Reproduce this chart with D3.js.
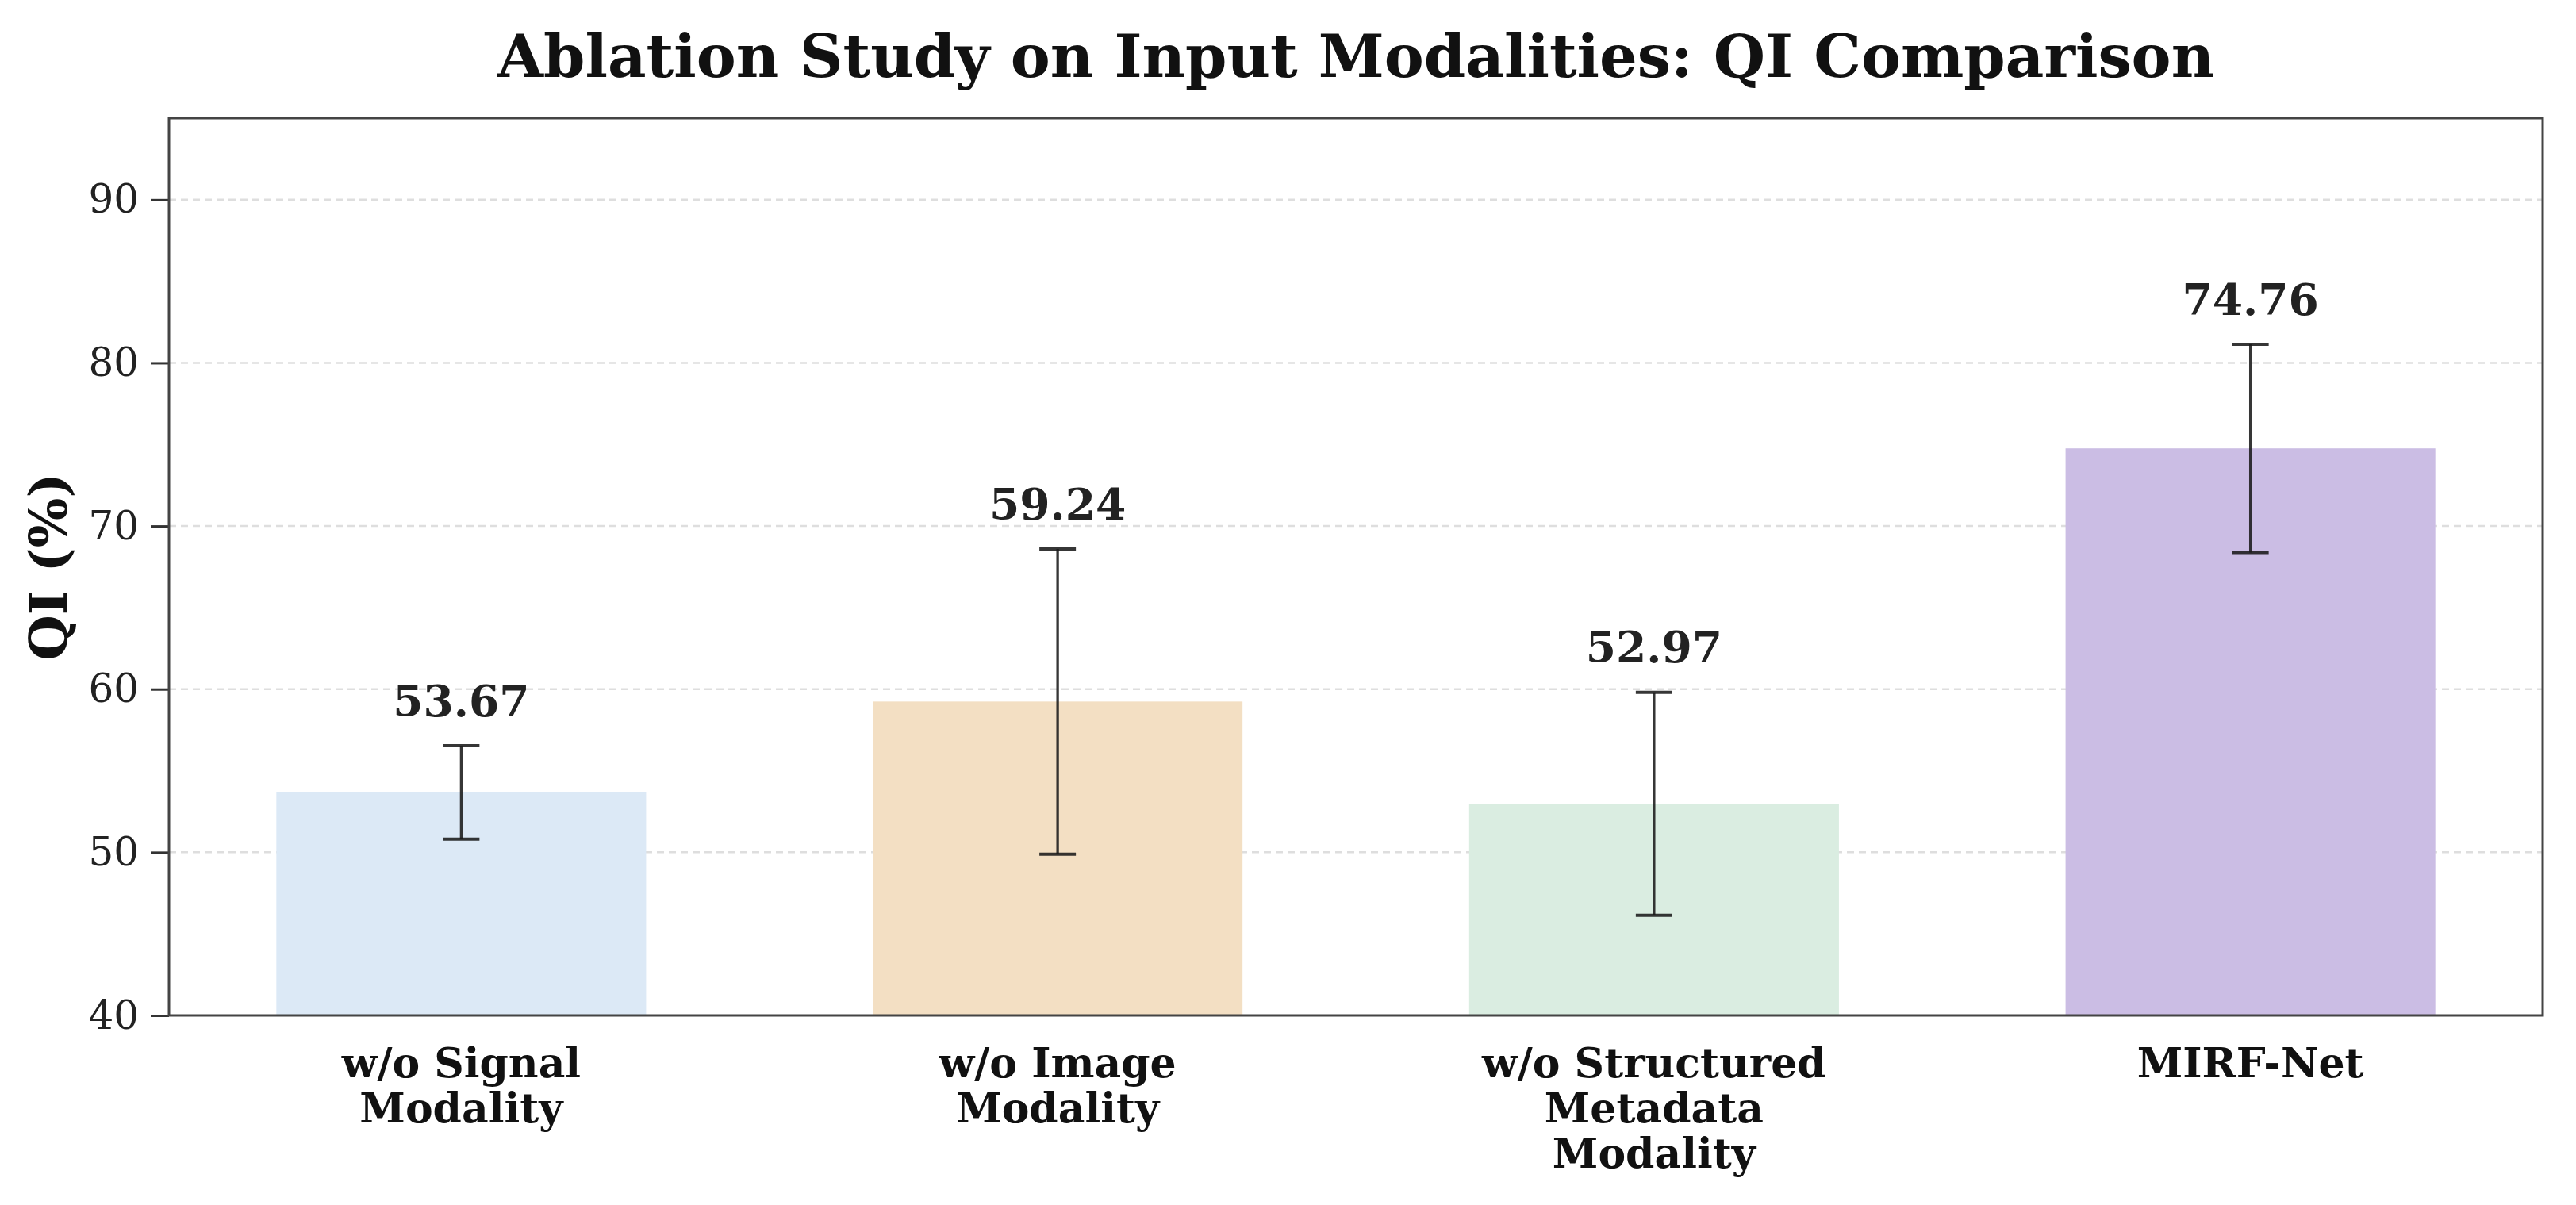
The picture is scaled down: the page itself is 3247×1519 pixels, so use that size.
<!DOCTYPE html>
<html>
<head>
<meta charset="utf-8">
<script src="https://cdn.jsdelivr.net/npm/d3@7"></script>
<style>
  html, body { margin: 0; padding: 0; background: #fff; }
  svg { display: block; }
</style>
</head>
<body>
<div id="container"></div>
<script>
// chart data
const categories = ["w/o Signal\nModality", "w/o Image\nModality", "w/o Structured\nMetadata\nModality", "MIRF-Net"];
const means = [53.67, 59.24, 52.97, 74.76];
const errors = [2.86, 9.35, 6.83, 6.38];
const yTicks = [40, 50, 60, 70, 80, 90];
const barColors = ["#dce9f6", "#f3dfc3", "#daede1", "#cbbde4"];

const W = 3247, H = 1519;
const margin = { top: 149, right: 42, bottom: 239, left: 213 };
const width = W - margin.left - margin.right;
const height = H - margin.top - margin.bottom;
const font = "'DejaVu Serif', serif";

const svg = d3.select("#container").append("svg")
  .attr("width", W)
  .attr("height", H);

const g = svg.append("g")
  .attr("transform", `translate(${margin.left}, ${margin.top})`);

// scales
const x = d3.scaleLinear().domain([-0.49, 3.49]).range([0, width]);
const y = d3.scaleLinear().domain([40, 95]).range([height, 0]);
const barHalf = 0.31;

// grid
g.append("g")
  .selectAll("line")
  .data(yTicks.filter(t => t > 40))
  .join("line")
  .attr("x1", 0).attr("x2", width)
  .attr("y1", d => y(d)).attr("y2", d => y(d))
  .attr("stroke", "#dedede")
  .attr("stroke-width", 2.5)
  .attr("stroke-dasharray", "9,6");

// bars
g.append("g")
  .selectAll("rect")
  .data(means)
  .join("rect")
  .attr("x", (d, i) => x(i - barHalf))
  .attr("y", d => y(d))
  .attr("width", x(barHalf) - x(-barHalf))
  .attr("height", d => height - y(d))
  .attr("fill", (d, i) => barColors[i]);

// error bars
const eb = g.append("g")
  .attr("stroke", "#1a1a1a")
  .attr("stroke-opacity", 0.88);
means.forEach((m, i) => {
  const cx = x(i);
  eb.append("line")
    .attr("x1", cx).attr("x2", cx)
    .attr("y1", y(m + errors[i])).attr("y2", y(m - errors[i]))
    .attr("stroke-width", 3.3);
  [m + errors[i], m - errors[i]].forEach(v => {
    eb.append("line")
      .attr("x1", cx - 23).attr("x2", cx + 23)
      .attr("y1", y(v)).attr("y2", y(v))
      .attr("stroke-width", 4);
  });
});

// value labels
g.append("g")
  .selectAll("text")
  .data(means)
  .join("text")
  .attr("x", (d, i) => x(i))
  .attr("y", (d, i) => y(d + errors[i] + 1.82))
  .attr("text-anchor", "middle")
  .style("font-family", font)
  .style("font-weight", "bold")
  .style("font-size", "55px")
  .style("fill", "#222")
  .text(d => d.toFixed(2));

// y axis
const yAxis = g.append("g")
  .call(d3.axisLeft(y).tickValues(yTicks).tickSize(23).tickPadding(15));
yAxis.select(".domain").remove();
yAxis.selectAll(".tick line").attr("stroke", "#333").attr("stroke-width", 3);
yAxis.selectAll(".tick text")
  .style("font-family", font)
  .style("font-size", "50px")
  .style("fill", "#222");

// x tick labels
const xl = g.append("g");
categories.forEach((c, i) => {
  const t = xl.append("text")
    .attr("x", x(i))
    .attr("y", height + 78)
    .attr("text-anchor", "middle")
    .style("font-family", font)
    .style("font-weight", "bold")
    .style("font-size", "52px")
    .style("fill", "#111");
  c.split("\n").forEach((line, k) => {
    t.append("tspan")
      .attr("x", x(i))
      .attr("dy", k === 0 ? 0 : 57)
      .text(line);
  });
});

// frame
g.append("rect")
  .attr("x", 0).attr("y", 0)
  .attr("width", width).attr("height", height)
  .attr("fill", "none")
  .attr("stroke", "#444")
  .attr("stroke-width", 3);

// y label
svg.append("text")
  .attr("transform", `translate(84, ${margin.top + height / 2}) rotate(-90)`)
  .attr("text-anchor", "middle")
  .style("font-family", font)
  .style("font-weight", "bold")
  .style("font-size", "66px")
  .style("fill", "#111")
  .text("QI (%)");

// title
svg.append("text")
  .attr("x", margin.left + width / 2)
  .attr("y", 97)
  .attr("text-anchor", "middle")
  .style("font-family", font)
  .style("font-weight", "bold")
  .style("font-size", "75px")
  .style("fill", "#111")
  .text("Ablation Study on Input Modalities: QI Comparison");
</script>
</body>
</html>
